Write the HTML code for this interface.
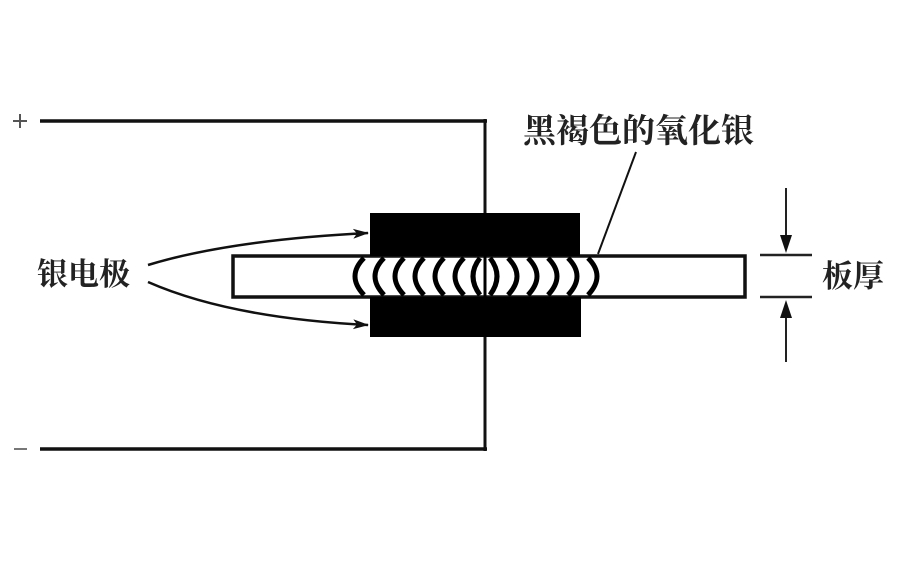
<!DOCTYPE html>
<html><head><meta charset="utf-8"><style>
html,body{margin:0;padding:0;background:#fff;}
svg{display:block;}
text{font-family:"Liberation Serif","Noto Serif CJK SC","Noto Sans CJK SC",serif;fill:#222;font-weight:bold;}
</style></head><body>
<svg width="900" height="562" viewBox="0 0 900 562" xmlns="http://www.w3.org/2000/svg">
<defs>
<marker id="ah" markerWidth="16" markerHeight="10" refX="15" refY="5" orient="auto" markerUnits="userSpaceOnUse">
<path d="M0,0 L16,5 L0,10 L4,5 Z" fill="#111"/>
</marker>
</defs>
<line x1="40" y1="121" x2="487" y2="121" stroke="#111" stroke-width="3.5"/>
<line x1="40" y1="449" x2="487" y2="449" stroke="#111" stroke-width="3.5"/>
<line x1="485" y1="119" x2="485" y2="215" stroke="#111" stroke-width="3"/>
<line x1="485" y1="335" x2="485" y2="451" stroke="#111" stroke-width="3"/>
<line x1="13" y1="121" x2="27" y2="121" stroke="#555" stroke-width="2"/>
<line x1="20" y1="114" x2="20" y2="128" stroke="#555" stroke-width="2"/>
<line x1="14" y1="449" x2="27" y2="449" stroke="#777" stroke-width="2"/>
<rect x="233" y="256" width="512" height="41" fill="#fff" stroke="#111" stroke-width="3.5"/>
<rect x="370" y="213" width="210" height="43" fill="#000"/>
<rect x="370" y="297" width="211" height="40" fill="#000"/>
<rect x="345" y="258" width="266" height="37" fill="#fff"/>
<g fill="none" stroke="#000" stroke-width="5">
<path d="M364,258 Q346,276 364,295"/>
<path d="M384,258 Q366,276 384,295"/>
<path d="M404,258 Q386,276 404,295"/>
<path d="M424,258 Q406,276 424,295"/>
<path d="M444,258 Q426,276 444,295"/>
<path d="M464,258 Q446,276 464,295"/>
<path d="M480,258 Q466,276 480,295"/>
<path d="M490,258 Q504,276 490,295"/>
<path d="M508,258 Q526,276 508,295"/>
<path d="M528,258 Q546,276 528,295"/>
<path d="M548,258 Q566,276 548,295"/>
<path d="M568,258 Q586,276 568,295"/>
<path d="M588,258 Q606,276 588,295"/>
</g>
<line x1="485" y1="256" x2="485" y2="297" stroke="#000" stroke-width="3"/>
<path d="M148,265 Q230,240 368,233" fill="none" stroke="#111" stroke-width="2.5" marker-end="url(#ah)"/>
<path d="M148,282 Q230,318 368,325" fill="none" stroke="#111" stroke-width="2.5" marker-end="url(#ah)"/>
<text x="37" y="285" font-size="31">银电极</text>
<line x1="636" y1="152" x2="598" y2="254" stroke="#111" stroke-width="2"/>
<text x="523" y="142" font-size="33">黑褐色的氧化银</text>
<line x1="760" y1="255" x2="812" y2="255" stroke="#222" stroke-width="2.5"/>
<line x1="760" y1="297" x2="812" y2="297" stroke="#222" stroke-width="2.5"/>
<line x1="786" y1="188" x2="786" y2="240" stroke="#222" stroke-width="2"/>
<path d="M780,235 L792,235 L786,253 Z" fill="#111"/>
<line x1="786" y1="314" x2="786" y2="362" stroke="#222" stroke-width="2"/>
<path d="M780,318 L792,318 L786,300 Z" fill="#111"/>
<text x="822" y="287" font-size="31">板厚</text>
</svg>
</body></html>
